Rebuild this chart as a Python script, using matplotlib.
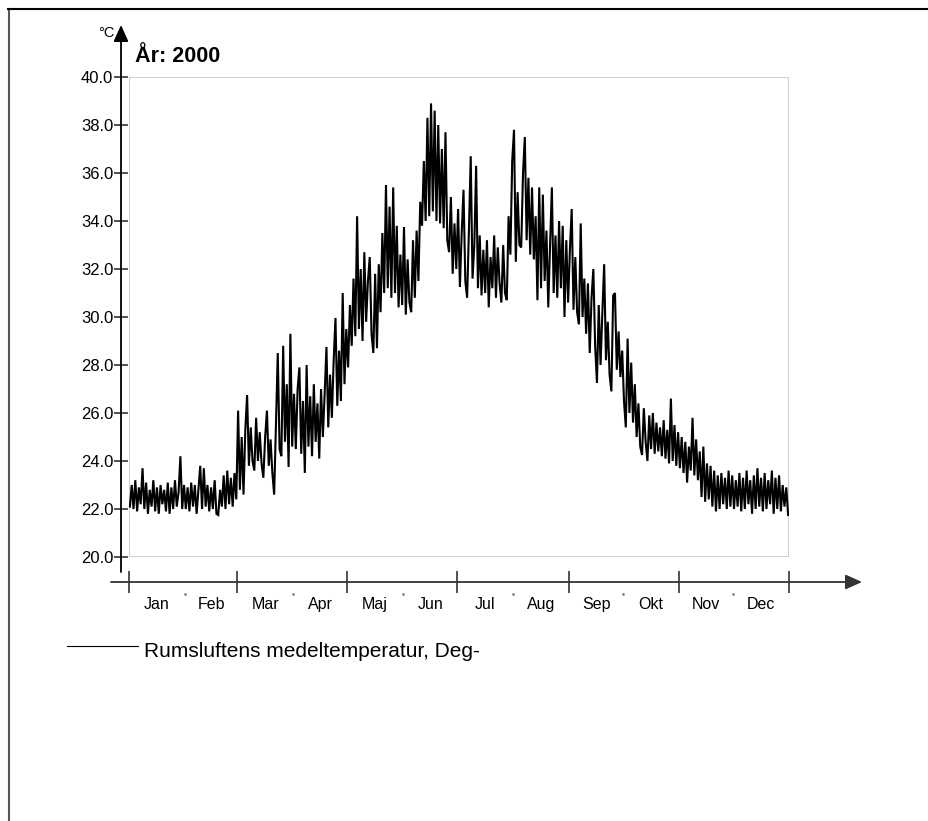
import matplotlib
matplotlib.use("Agg")
import matplotlib.pyplot as plt
import numpy as np
from matplotlib import font_manager
from matplotlib.patches import Rectangle
from matplotlib.lines import Line2D

# dagliga värden (omväxlande låg/hög), °C
jan = [22.1, 23.0, 22.0, 23.2, 21.9, 22.9, 22.2, 23.7, 22.0, 23.1, 21.8, 22.8, 22.1, 23.2, 21.9, 22.9,
       21.8, 23.0, 22.2, 22.8, 21.9, 23.1, 21.8, 22.9, 22.0, 23.2, 22.1, 22.7, 24.2, 22.0, 23.0]
feb = [22.0, 22.9, 21.9, 23.1, 22.1, 23.0, 21.8, 22.8, 23.8, 22.0, 23.7, 22.1, 23.0, 21.9, 22.9,
       22.0, 23.2, 21.8, 21.75, 22.8, 22.1, 23.4, 22.0, 23.6, 22.2, 23.3, 22.1, 23.5, 22.4]
mar = [26.1, 22.8, 25.0, 22.6, 25.3, 26.75, 23.8, 25.4, 24.0, 23.6, 25.8, 24.0, 25.2, 23.9, 23.3, 25.0,
       26.1, 23.8, 24.9, 23.5, 22.6, 25.5, 28.5, 24.5, 24.2, 28.8, 24.8, 27.2, 23.75, 29.3, 24.6]
apr = [26.8, 24.5, 27.0, 27.9, 24.3, 26.5, 23.5, 28.0, 24.6, 26.7, 24.2, 27.2, 24.8, 26.4, 24.1,
       27.0, 25.0, 26.8, 28.75, 25.4, 27.6, 25.8, 28.2, 29.96, 26.3, 28.6, 26.5, 31.0, 27.2, 29.5]
maj = [27.9, 30.5, 28.8, 31.6, 29.2, 34.2, 29.5, 32.0, 29.0, 32.7, 29.8, 31.5, 32.5, 29.3, 28.5, 31.8,
       28.7, 32.2, 30.2, 33.5, 31.0, 35.5, 31.2, 34.6, 30.8, 35.4, 31.0, 33.8, 30.4, 32.6, 30.5]
jun = [33.75, 30.1, 32.4, 30.6, 30.2, 33.2, 30.8, 33.6, 31.5, 34.8, 33.8, 36.5, 34.0, 38.3, 34.2,
       38.9, 34.4, 38.6, 34.0, 38.0, 33.9, 37.0, 33.7, 37.7, 33.2, 32.7, 35.0, 31.8, 33.9, 32.0]
jul = [34.5, 31.25, 33.5, 35.3, 31.5, 30.8, 33.6, 36.7, 31.6, 33.0, 36.3, 31.2, 33.4, 30.9, 32.8, 31.0,
       33.2, 30.4, 32.5, 31.2, 33.4, 30.8, 32.9, 31.4, 30.6, 33.0, 31.0, 30.7, 34.2, 32.6, 36.5]
aug = [37.8, 32.3, 35.2, 33.0, 32.9, 36.0, 37.5, 33.2, 35.8, 32.6, 35.4, 32.4, 34.2, 30.7, 35.4, 31.2,
       35.1, 31.5, 33.6, 30.4, 33.0, 35.4, 31.0, 33.4, 30.8, 34.0, 31.2, 33.8, 30.0, 33.2, 30.6]
sep = [32.8, 34.5, 30.3, 32.5, 30.2, 29.7, 33.9, 30.0, 31.6, 29.3, 31.4, 28.5, 30.8, 32.0, 28.8,
       27.25, 30.5, 28.0, 30.2, 32.2, 28.2, 29.8, 27.6, 26.9, 30.9, 31.0, 27.8, 29.4, 27.5, 28.6]
okt = [26.5, 25.4, 29.1, 26.0, 28.1, 25.6, 27.2, 25.0, 26.4, 24.6, 24.25, 26.2, 24.8, 24.0, 25.9, 24.5,
       26.0, 24.3, 25.6, 24.4, 25.4, 24.2, 25.7, 24.1, 25.3, 23.9, 26.6, 24.0, 25.5, 23.8, 25.2]
nov = [23.7, 25.0, 23.5, 24.8, 23.1, 24.6, 23.6, 25.8, 23.4, 24.9, 23.2, 24.4, 22.5, 24.6, 22.3,
       23.9, 22.4, 23.8, 22.1, 23.6, 21.9, 23.4, 22.0, 23.5, 22.2, 23.3, 22.0, 23.6, 22.1, 23.4]
dec = [22.0, 23.2, 22.1, 23.5, 21.9, 23.3, 22.0, 23.6, 22.2, 23.2, 21.8, 23.4, 22.0, 23.7, 22.1, 23.3,
       21.9, 23.5, 22.0, 23.2, 22.2, 23.6, 21.8, 23.3, 22.0, 23.4, 21.9, 23.0, 22.1, 22.9, 21.75]

months = ["Jan", "Feb", "Mar", "Apr", "Maj", "Jun", "Jul", "Aug", "Sep", "Okt", "Nov", "Dec"]
month_len = [31, 29, 31, 30, 31, 30, 31, 31, 30, 31, 30, 31]
yticks = [20, 22, 24, 26, 28, 30, 32, 34, 36, 38, 40]

plt.rcParams["font.family"] = ["Liberation Sans", "DejaVu Sans"]
names = {f.name for f in font_manager.fontManager.ttflist}
narrow = "Liberation Sans Narrow" in names

W, H = 929, 821
fig = plt.figure(figsize=(W / 100, H / 100), dpi=100)
ax = fig.add_axes([129 / W, (H - 557) / H, 660 / W, 480 / H])

temp = np.concatenate([jan, feb, mar, apr, maj, jun, jul, aug, sep, okt, nov, dec])
days = np.arange(len(temp)) + 0.5
ax.plot(days, temp, color="black", lw=1.5, solid_joinstyle="miter")

ax.set_xlim(0, 366)
ax.set_ylim(20, 40)

# ram och axlar
for s in ax.spines.values():
    s.set_visible(False)
ax.spines["left"].set_position(("outward", 8 * 0.72))
ax.spines["bottom"].set_position(("outward", 25 * 0.72))
ax.add_patch(Rectangle((0, 0), 1, 1, transform=ax.transAxes, fill=False,
                       edgecolor="#c8c8c8", lw=1.2, zorder=0))

starts = np.concatenate([[0], np.cumsum(month_len)])
mids = starts[:-1] + np.array(month_len) / 2
ax.set_xticks(starts[::2])
ax.set_xticklabels([])
ax.set_xticks(mids, minor=True)
ax.set_xticklabels(months, minor=True)
ax.tick_params(axis="x", which="major", direction="inout", length=16, width=1.2, color="#333333")
ax.tick_params(axis="x", which="minor", length=0, pad=11, labelsize=11.5)
ax.plot(starts[1:-1:2], [-37 / 480] * 6, transform=ax.get_xaxis_transform(), ls="none",
        marker="o", ms=0.9, color="#777777", clip_on=False)

ax.set_yticks(yticks)
ax.set_yticklabels([f"{v:.1f}" for v in yticks])
ax.tick_params(axis="y", direction="inout", length=10, width=1.1, pad=0.5, labelsize=12, color="#222222")

# pilar
ax.annotate("", xy=(121, H - 25), xytext=(121, H - 572), xycoords="figure pixels",
            textcoords="figure pixels", annotation_clip=False,
            arrowprops=dict(arrowstyle="-|>,head_length=1.0,head_width=0.45", color="black",
                            lw=1.3, shrinkA=0, shrinkB=0))
ax.annotate("", xy=(862, H - 582), xytext=(111, H - 582), xycoords="figure pixels",
            textcoords="figure pixels", annotation_clip=False,
            arrowprops=dict(arrowstyle="-|>,head_length=1.0,head_width=0.45", color="#333333",
                            lw=1.3, shrinkA=0, shrinkB=0))

fig.text(115 / W, 1 - 37 / H, "°C", ha="right", va="baseline", fontsize=10.5)
fig.text(135 / W, 1 - 62 / H, "År: 2000", ha="left", va="baseline", fontsize=15.5, fontweight="bold")

# legend
fig.add_artist(Line2D([67 / W, 138 / W], [1 - 645.5 / H] * 2, transform=fig.transFigure,
                      color="black", lw=0.8))
if narrow:
    fig.text(144 / W, 1 - 657 / H, "Rumsluftens medeltemperatur, Deg-", va="baseline",
             fontsize=18, family=["Liberation Sans Narrow", "Liberation Sans"])
else:
    fig.text(144 / W, 1 - 657 / H, "Rumsluftens medeltemperatur, Deg-", va="baseline", fontsize=15)

# ytterram
fig.add_artist(Line2D([8.5 / W, 8.5 / W], [0, 1 - 9 / H], transform=fig.transFigure,
                      color="#555555", lw=1.5))
fig.add_artist(Line2D([8 / W, 1], [1 - 9 / H] * 2, transform=fig.transFigure,
                      color="black", lw=1.5))

fig.savefig("out.png", dpi=100)
